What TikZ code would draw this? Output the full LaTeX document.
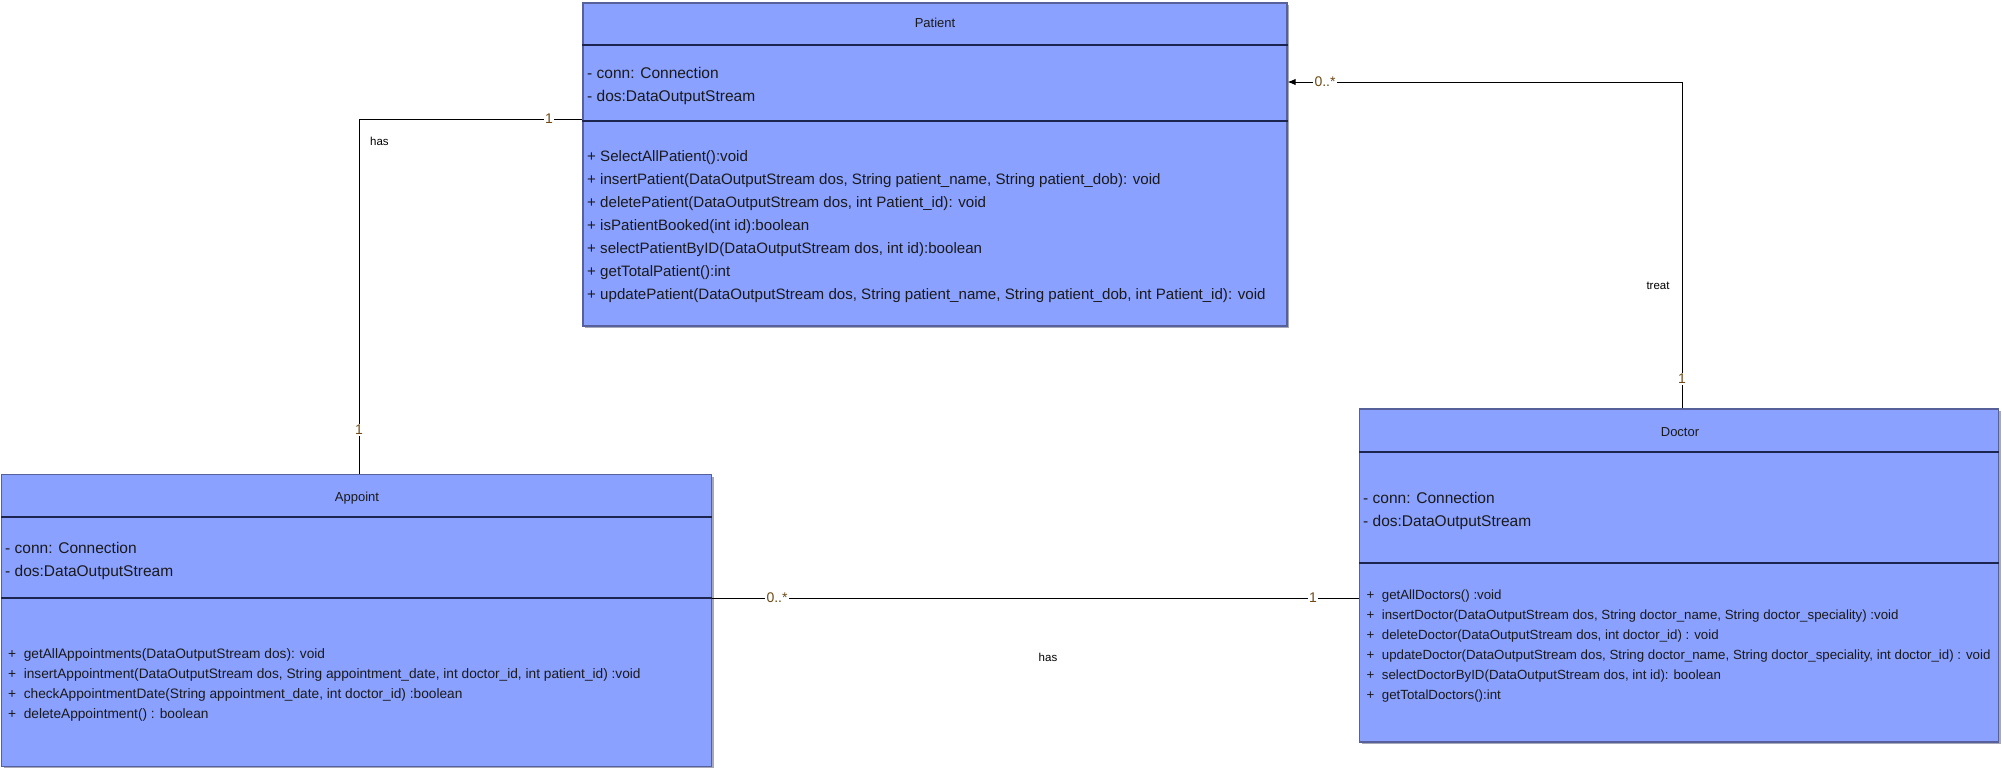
\documentclass[tikz,border=0pt]{standalone}
\usepackage{fontspec}
\setmainfont{Liberation Sans}
\usetikzlibrary{arrows.meta,shadows}
\definecolor{boxfill}{HTML}{8AA1FF}
\definecolor{boxedge}{HTML}{56609A}
\definecolor{sepline}{HTML}{1C2550}
\definecolor{shadowc}{HTML}{A7A9B8}
\definecolor{multc}{HTML}{6E4A16}
\definecolor{txtc}{HTML}{1A1A1A}
\begin{document}
\begin{tikzpicture}[x=1pt,y=-1pt,
  classbox/.style={draw=boxedge, fill=boxfill, line width=1.3pt, inner sep=0pt,
    drop shadow={shadow xshift=2pt, shadow yshift=-2pt, fill=shadowc, opacity=1}},
  sepl/.style={draw=sepline, line width=1.5pt},
  ctitle/.style={font=\fontsize{13}{15}\selectfont, text=txtc, inner sep=0pt, anchor=base},
  attr/.style={font=\fontsize{15.5}{18}\selectfont, text=txtc, inner sep=0pt, anchor=base west},
  meth/.style={font=\fontsize{15.1}{18}\selectfont, text=txtc, inner sep=0pt, anchor=base west},
  ameth/.style={font=\fontsize{13.7}{15}\selectfont, text=txtc, inner sep=0pt, anchor=base west},
  dmeth/.style={font=\fontsize{13.3}{15}\selectfont, text=txtc, inner sep=0pt, anchor=base west},
  conn/.style={draw=black, line width=1pt},
  mult/.style={font=\fontsize{14}{16}\selectfont, text=multc, fill=white, inner sep=1.5pt},
  rolelbl/.style={font=\fontsize{11.5}{13}\selectfont, text=black, inner sep=0pt}
]
\useasboundingbox (0,0) rectangle (2002,768);

% ---------- class boxes ----------
\node[classbox, minimum width=704pt, minimum height=323pt] (patient) at (935,164.5) {};
\node[classbox, minimum width=710pt, minimum height=292pt] (appoint) at (356.5,620.5) {};
\node[classbox, minimum width=639pt, minimum height=333pt] (doctor) at (1679,575.5) {};

% separators
\coordinate (ps1) at (0,45);  \coordinate (ps2) at (0,121);
\coordinate (as1) at (0,517); \coordinate (as2) at (0,598);
\coordinate (ds1) at (0,452); \coordinate (ds2) at (0,563);
\draw[sepl] (patient.west |- ps1) -- (patient.east |- ps1);
\draw[sepl] (patient.west |- ps2) -- (patient.east |- ps2);
\draw[sepl] (appoint.west |- as1) -- (appoint.east |- as1);
\draw[sepl] (appoint.west |- as2) -- (appoint.east |- as2);
\draw[sepl] (doctor.west |- ds1) -- (doctor.east |- ds1);
\draw[sepl] (doctor.west |- ds2) -- (doctor.east |- ds2);

% ---------- Patient ----------
\node[ctitle] (ptitle) at (935,28) {Patient};
\node[attr] (pa1) at (587,78) {- conn: Connection};
\node[attr] (pa2) at (587,101) {- dos:DataOutputStream};
\foreach \t [count=\i] in {
  {+ SelectAllPatient():void},
  {+ insertPatient(DataOutputStream dos, String patient\_name, String patient\_dob): void},
  {+ deletePatient(DataOutputStream dos, int Patient\_id): void},
  {+ isPatientBooked(int id):boolean},
  {+ selectPatientByID(DataOutputStream dos, int id):boolean},
  {+ getTotalPatient():int},
  {+ updatePatient(DataOutputStream dos, String patient\_name, String patient\_dob, int Patient\_id): void}}
  \node[meth] (pm\i) at (587,{161+23*(\i-1)}) {\t};

% ---------- Appoint ----------
\node[ctitle] (atitle) at (357,501) {Appoint};
\node[attr] (aa1) at (5,553) {- conn: Connection};
\node[attr] (aa2) at (5,576) {- dos:DataOutputStream};
\foreach \t [count=\i] in {
  {+\ \ getAllAppointments(DataOutputStream dos): void},
  {+\ \ insertAppointment(DataOutputStream dos, String appointment\_date, int doctor\_id, int patient\_id) :void},
  {+\ \ checkAppointmentDate(String appointment\_date, int doctor\_id) :boolean},
  {+\ \ deleteAppointment() : boolean}}
  \node[ameth] (am\i) at (8,{658.5+20*(\i-1)}) {\t};

% ---------- Doctor ----------
\node[ctitle] (dtitle) at (1680,436) {Doctor};
\node[attr] (da1) at (1363,503) {- conn: Connection};
\node[attr] (da2) at (1363,526) {- dos:DataOutputStream};
\foreach \t [count=\i] in {
  {+\ \ getAllDoctors() :void},
  {+\ \ insertDoctor(DataOutputStream dos, String doctor\_name, String doctor\_speciality) :void},
  {+\ \ deleteDoctor(DataOutputStream dos, int doctor\_id) : void},
  {+\ \ updateDoctor(DataOutputStream dos, String doctor\_name, String doctor\_speciality, int doctor\_id) : void},
  {+\ \ selectDoctorByID(DataOutputStream dos, int id): boolean},
  {+\ \ getTotalDoctors():int}}
  \node[dmeth] (dm\i) at (1366.5,{599.5+20*(\i-1)}) {\t};

% ---------- connectors ----------
\coordinate (c1) at (359,119);
\draw[conn] (c1 |- appoint.north) -- (c1) -- (patient.west |- c1);
\coordinate (c2) at (1682,82);
\draw[conn, -{Latex[length=8pt,width=6.5pt]}] (c2 |- doctor.north) -- (c2) -- (patient.east |- c2);
\coordinate (c3) at (0,598);
\draw[conn] (appoint.east |- c3) -- (doctor.west |- c3);

% labels
\node[mult] (m1) at (549,119) {1};
\node[mult] (m2) at (359,430) {1};
\node[rolelbl, anchor=west] (l1) at (370,141) {has};
\node[mult] (m3) at (1325,82) {0..*};
\node[mult] (m4) at (1682,379) {1};
\node[rolelbl] (l2) at (1658,286) {treat};
\node[mult] (m5) at (777,598) {0..*};
\node[mult] (m6) at (1313,598) {1};
\node[rolelbl] (l3) at (1048,657) {has};
\end{tikzpicture}
\end{document}
